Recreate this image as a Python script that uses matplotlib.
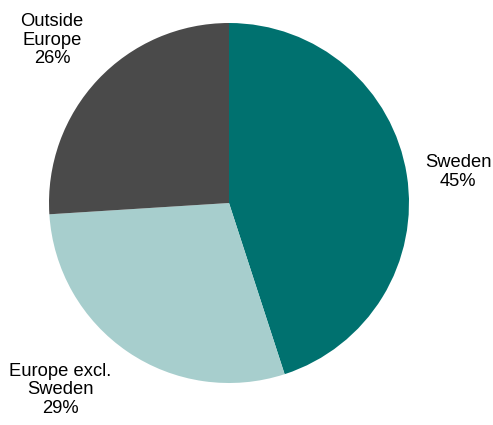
import matplotlib
matplotlib.use("Agg")
from matplotlib import pyplot as plt

plt.rcParams['font.family'] = ['Liberation Sans', 'DejaVu Sans']

regions = ["Sweden", "Europe excl.\nSweden", "Outside\nEurope"]
shares = [45, 29, 26]
colors = ["#00716f", "#a7cecd", "#4a4a4a"]

# label centres in figure pixels (y from top)
label_pos = [(458, 172), (60, 390), (52, 40)]

fig = plt.figure(figsize=(4.93, 4.25), dpi=100)
ax = fig.add_axes([0, 0, 1, 1])
ax.set_xlim(0, 493)
ax.set_ylim(0, 425)
ax.set_aspect("equal")
ax.axis("off")

ax.pie(shares, colors=colors, startangle=90, counterclock=False,
       center=(229, 425 - 203), radius=180, frame=True,
       wedgeprops={"linewidth": 0})
ax.set_xlim(0, 493)
ax.set_ylim(0, 425)
ax.axis("off")

for name, val, (x, y) in zip(regions, shares, label_pos):
    ax.text(x, 425 - y, "{}\n{}%".format(name, val), ha="center", va="center",
            fontsize=13.2, linespacing=1.15)

fig.savefig("out.png", dpi=100)
